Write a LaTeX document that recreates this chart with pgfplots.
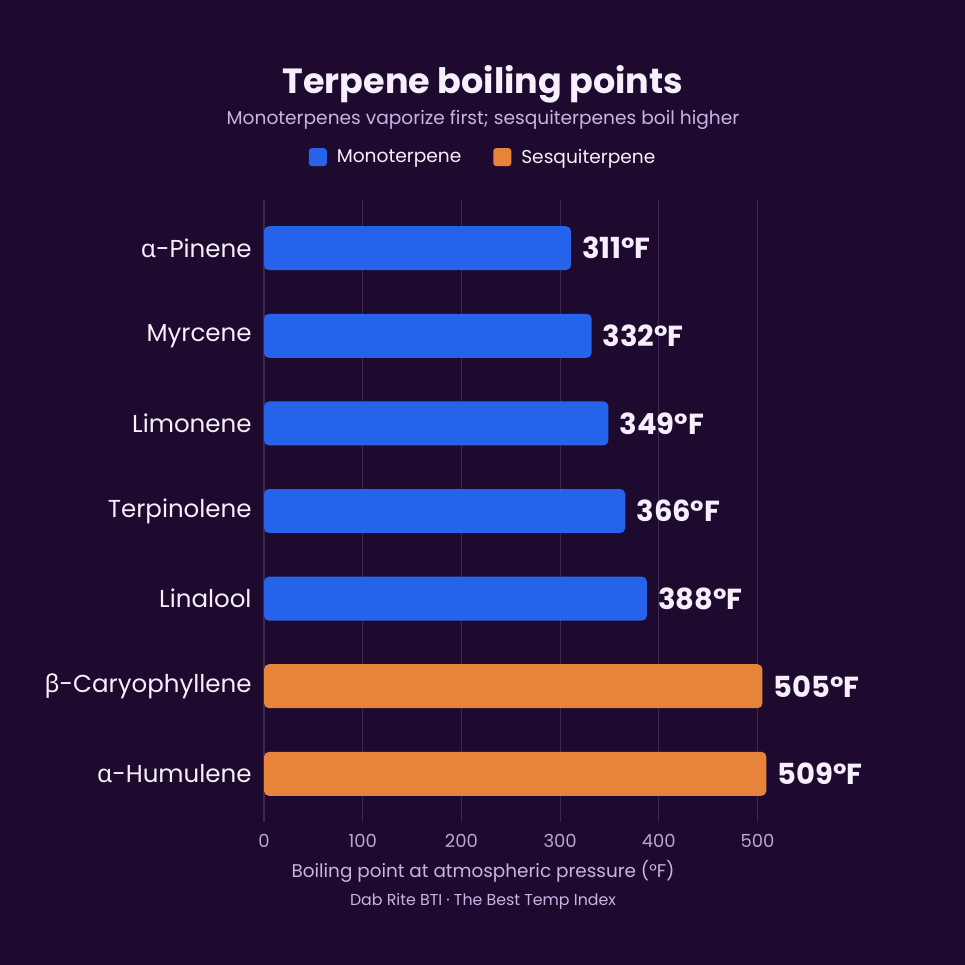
\documentclass[border=0pt]{standalone}
\usepackage{fontspec}
\setmainfont{Poppins}
\newfontfamily\gk{Noto Sans}
\usepackage{pgfplots}
\pgfplotsset{compat=1.18}

\definecolor{bg}{HTML}{1E0A2F}
\definecolor{mono}{HTML}{2563EB}
\definecolor{sesq}{HTML}{E8843A}
\definecolor{titlec}{HTML}{F6F0FC}
\definecolor{subc}{HTML}{C8B4E4}
\definecolor{gridc}{HTML}{3A2852}
\definecolor{tickc}{HTML}{B8A6D2}

\begin{document}
\begin{tikzpicture}
\fill[bg] (0,0) rectangle (965bp,-965bp);

\node[anchor=base, text=titlec, font=\fontsize{35bp}{40bp}\selectfont\bfseries] at (483bp,-93bp) {Terpene boiling points};
\node[anchor=base, text=subc, font=\fontsize{18.6bp}{22bp}\selectfont] at (483bp,-124bp) {Monoterpenes vaporize first; sesquiterpenes boil higher};

\begin{axis}[
    at={(264bp,-822bp)}, anchor=south west,
    scale only axis, width=533bp, height=622bp,
    xbar, bar width=44bp,
    xmin=0, xmax=540,
    ymin=-0.55, ymax=6.55, y dir=reverse,
    ytick={0,...,6},
    yticklabels={{\gk α}-Pinene, Myrcene, Limonene, Terpinolene, Linalool, {\gk β}-Caryophyllene, {\gk α}-Humulene},
    xtick={0,100,...,500},
    xmajorgrids, grid style={gridc, line width=1.2bp},
    axis line style={draw=none},
    major tick length=0,
    /pgf/number format/assume math mode=true,
    x tick label style={text=tickc, font=\fontsize{18bp}{22bp}\selectfont, yshift=-9bp},
    y tick label style={text=titlec, font=\fontsize{24.5bp}{28bp}\selectfont, xshift=-9bp},
    xlabel={Boiling point at atmospheric pressure (°F)},
    xlabel style={at={(axis description cs:0.411,0)}, anchor=base,
        text=subc, font=\fontsize{18.4bp}{22bp}\selectfont, yshift=-55bp},
    nodes near coords={\pgfmathprintnumber{\pgfplotspointmeta}°F},
    every node near coord/.append style={anchor=west, inner sep=0pt, xshift=11bp,
        text=titlec, font=\fontsize{29bp}{32bp}\selectfont\bfseries},
    legend style={at={(0.411,1.069)}, anchor=center, draw=none, fill=none,
        legend columns=2, text=titlec, font=\fontsize{18.6bp}{22bp}\selectfont,
        /tikz/every odd column/.append style={column sep=8bp},
        /tikz/every even column/.append style={column sep=30bp}},
    legend image code/.code={\fill[#1, rounded corners=3bp] (0bp,-9bp) rectangle (18bp,9bp);},
]
\addplot[fill=mono, draw=none, bar shift=0pt, rounded corners=5bp]
    coordinates {(311,0) (332,1) (349,2) (366,3) (388,4)};
\addlegendentry{Monoterpene}
\addplot[fill=sesq, draw=none, bar shift=0pt, rounded corners=5bp]
    coordinates {(505,5) (509,6)};
\addlegendentry{Sesquiterpene}
\end{axis}

\node[anchor=base, text=subc, font=\fontsize{15.8bp}{18bp}\selectfont] at (483bp,-905bp) {Dab Rite BTI · The Best Temp Index};
\end{tikzpicture}
\end{document}
